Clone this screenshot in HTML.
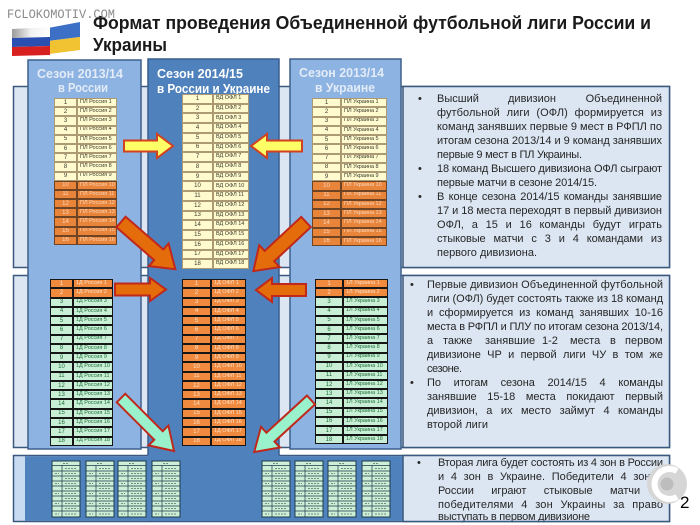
<!DOCTYPE html>
<html><head><meta charset="utf-8">
<style>
html,body{margin:0;padding:0;background:#fff;}
#w{position:relative;width:700px;height:525px;overflow:hidden;font-family:"Liberation Sans",sans-serif;}
svg{position:absolute;left:0;top:0;}
#bg{z-index:1}
#fg{z-index:3}
.t{position:absolute;z-index:2;font-size:6px;line-height:1;font-family:"Liberation Sans",sans-serif;}
.t div{display:flex;height:var(--h);}
.t i,.t b{display:flex;align-items:center;box-sizing:border-box;font-style:normal;font-weight:normal;white-space:nowrap;overflow:hidden;}
.t i{width:var(--n);justify-content:center;}
.t b{flex:1;padding-left:2px;font-size:5.5px;}
.y i,.y b{background:#fffbcf;color:#3a3a2a;border:1px solid #ab9a74;}
.o i,.o b{background:#e9843b;color:#fbd9bd;border:1px solid #6e4424;}
.k .o i,.k .o b{background:#ef8a3e;color:#fde0c8;border:1px solid #161616;}
.g i,.g b{background:#c8efd6;color:#22703a;border:1px solid #161616;}
</style></head><body><div id="w">

<svg id="bg" width="700" height="525" font-family="Liberation Sans, sans-serif">
<defs>
<linearGradient id="wg" x1="0" x2="1"><stop offset="0" stop-color="#9a9a9a"/><stop offset="0.5" stop-color="#f2f2f2"/><stop offset="1" stop-color="#ffffff"/></linearGradient>
<g id="m">
<rect x="0" y="0" width="28" height="56" fill="#cdeed7" stroke="#1e3a4a" stroke-width="1"/>
<path d="M0,4.5H28M0,10H28M0,15H28M0,20H28M0,25H28M0,30H28M0,35H28M0,40H28M0,45H28M0,50H28M10,4.5V56" stroke="#1e3a4a" stroke-width="0.7" fill="none"/>
<path d="M13,7.5H24M13,12.5H24M13,17.5H24M13,22.5H24M13,27.5H24M13,32.5H24M13,37.5H24M13,42.5H24M13,47.5H24M13,53H24M3,12.5H7M3,22.5H7M3,32.5H7M3,42.5H7M3,53H7M11,2.5H17" stroke="#6f8f78" stroke-width="1.1" stroke-dasharray="2 1" fill="none"/>
</g>
</defs>

<text x="7" y="18" font-family="Liberation Mono, monospace" font-size="13" fill="#8a8a8a" textLength="108" lengthAdjust="spacingAndGlyphs">FCLOKOMOTIV.COM</text>

<polygon points="48,28 80,22 80,37 48,41" fill="#3c6fc6"/>
<polygon points="48,41 80,37 80,50 49,54" fill="#f1c232"/>
<polygon points="12,29 50,27 50,37 12,38" fill="url(#wg)"/>
<polygon points="12,38 50,37 50,46 12,47" fill="#2a4fb0"/>
<polygon points="12,47 50,46 50,55 12,56" fill="#d92020"/>

<text x="93" y="29" font-size="18" font-weight="bold" fill="#1a1a1a" textLength="558" lengthAdjust="spacingAndGlyphs">Формат проведения Объединенной футбольной лиги России и</text>
<text x="93" y="51" font-size="18" font-weight="bold" fill="#1a1a1a" textLength="74" lengthAdjust="spacingAndGlyphs">Украины</text>

<rect x="13.5" y="86.5" width="656" height="181" fill="#dce6f2" stroke="#3b587e" stroke-width="1.5"/>
<rect x="13.5" y="275.5" width="656" height="172" fill="#dce6f2" stroke="#3b587e" stroke-width="1.5"/>
<rect x="13.5" y="455.5" width="656" height="66" fill="#c9dbf1" stroke="#3b587e" stroke-width="1.5"/>
<rect x="25" y="456.3" width="378" height="64.5" fill="#4f81bd"/>
<rect x="403" y="86.5" width="266.5" height="181" fill="#dce6f2" stroke="#3b587e" stroke-width="1.5"/>
<rect x="403" y="275.5" width="266.5" height="172" fill="#dce6f2" stroke="#3b587e" stroke-width="1.5"/>
<rect x="403" y="455.5" width="266.5" height="66" fill="#dce6f2"/>

<rect x="28" y="60" width="113" height="389" fill="#8db3e2" stroke="#3f5f8a" stroke-width="1.5"/>
<rect x="290" y="59" width="111" height="390" fill="#8db3e2" stroke="#3f5f8a" stroke-width="1.5"/>
<rect x="148" y="59" width="131" height="462" fill="#4f81bd"/>
<path d="M148,455 V59 H279 V455" fill="none" stroke="#3a5e8c" stroke-width="1.5"/>

<g font-weight="bold" font-size="13">
<text x="37" y="78" fill="#e3ebf7" textLength="86" lengthAdjust="spacingAndGlyphs">Сезон 2013/14</text>
<text x="58" y="92" fill="#e3ebf7" textLength="50" lengthAdjust="spacingAndGlyphs">в России</text>
<text x="157" y="78" fill="#ffffff" textLength="86" lengthAdjust="spacingAndGlyphs">Сезон 2014/15</text>
<text x="157" y="93" fill="#ffffff" textLength="113" lengthAdjust="spacingAndGlyphs">в России и Украине</text>
<text x="299" y="77" fill="#e3ebf7" textLength="85" lengthAdjust="spacingAndGlyphs">Сезон 2013/14</text>
<text x="315" y="92" fill="#e3ebf7" textLength="60" lengthAdjust="spacingAndGlyphs">в Украине</text>
</g>

<use href="#m" x="52" y="461"/>
<use href="#m" x="86" y="461"/>
<use href="#m" x="118" y="461"/>
<use href="#m" x="152" y="461"/>
<use href="#m" x="262" y="461"/>
<use href="#m" x="295" y="461"/>
<use href="#m" x="328" y="461"/>
<use href="#m" x="362" y="461"/>

<g font-size="11" fill="#262626">
<text x="418" y="102">•</text>
<text x="437" y="102">Высший</text>
<text x="508" y="102">дивизион</text>
<text x="662" y="102" text-anchor="end">Объединенной</text>
<text x="437" y="116" textLength="225" style="word-spacing:3.7px">футбольной лиги (ОФЛ) формируется из</text>
<text x="437" y="130" textLength="225">команд занявших первые 9 мест в РФПЛ по</text>
<text x="437" y="144" textLength="225">итогам сезона 2013/14 и 9 команд занявших</text>
<text x="437" y="158" textLength="145">первые 9 мест в ПЛ Украины.</text>
<text x="418" y="172">•</text>
<text x="437" y="172" textLength="225">18 команд Высшего дивизиона ОФЛ сыграют</text>
<text x="437" y="186" textLength="160">первые матчи в сезоне 2014/15.</text>
<text x="418" y="200">•</text>
<text x="437" y="200" textLength="225" style="word-spacing:1.4px">В конце сезона 2014/15 команды занявшие</text>
<text x="437" y="214" textLength="225">17 и 18 места переходят в первый дивизион</text>
<text x="437" y="228" textLength="225" style="word-spacing:4.6px">ОФЛ, а 15 и 16 команды будут играть</text>
<text x="437" y="242" textLength="225" style="word-spacing:5px">стыковые матчи с 3 и 4 командами из</text>
<text x="437" y="256" textLength="100">первого дивизиона.</text>

<text x="410" y="288">•</text>
<text x="427" y="288" textLength="236">Первые дивизион Объединенной футбольной</text>
<text x="427" y="302" textLength="236">лиги (ОФЛ) будет состоять также из 18 команд</text>
<text x="427" y="316" textLength="236" style="word-spacing:2.8px">и сформируется из команд занявших 10-16</text>
<text x="427" y="330" textLength="236">места в РФПЛ и ПЛУ по итогам сезона 2013/14,</text>
<text y="344"><tspan x="427">а</tspan> <tspan x="443">также</tspan> <tspan x="485">занявшие</tspan> <tspan x="542">1-2</tspan> <tspan x="570">места</tspan> <tspan x="610">в</tspan> <tspan x="625">первом</tspan></text>
<text x="427" y="358" textLength="236" style="word-spacing:3.3px">дивизионе ЧР и первой лиги ЧУ в том же</text>
<text x="427" y="372" textLength="35">сезоне.</text>
<text x="410" y="386">•</text>
<text x="427" y="386" textLength="236" style="word-spacing:9.8px">По итогам сезона 2014/15 4 команды</text>
<text x="427" y="400" textLength="236" style="word-spacing:7.7px">занявшие 15-18 места покидают первый</text>
<text x="427" y="414" textLength="236" style="word-spacing:5.5px">дивизион, а их место займут 4 команды</text>
<text x="427" y="428" textLength="61">второй лиги</text>

<text x="417" y="466">•</text>
<text x="438" y="466" textLength="225">Вторая лига будет состоять из 4 зон в России</text>
<text x="438" y="480" textLength="225" style="word-spacing:3.6px">и 4 зон в Украине. Победители 4 зон в</text>
<text x="438" y="494" textLength="225" style="word-spacing:14.5px">России играют стыковые матчи с</text>
<text x="438" y="508" textLength="225" style="word-spacing:4.4px">победителями 4 зон Украины за право</text>
<text x="438" y="520" textLength="152">выступать в первом дивизионе</text>
</g>
<rect x="403" y="455.5" width="266.5" height="66" fill="none" stroke="#3b587e" stroke-width="1.5"/>

<circle cx="667" cy="484" r="20" fill="#d6d6d6"/>
<path d="M677,471 A15,15 0 1 0 677,497" fill="none" stroke="#ffffff" stroke-width="6"/>
<circle cx="667" cy="484" r="6.5" fill="#bdbdbd"/>
<text x="680" y="508" font-size="17" fill="#000">2</text>
</svg>

<div class="t" style="left:54px;top:98px;width:63px;--n:23px;--h:9.2px">
<div class="y"><i>1</i><b>ПЛ Россия 1</b></div>
<div class="y"><i>2</i><b>ПЛ Россия 2</b></div>
<div class="y"><i>3</i><b>ПЛ Россия 3</b></div>
<div class="y"><i>4</i><b>ПЛ Россия 4</b></div>
<div class="y"><i>5</i><b>ПЛ Россия 5</b></div>
<div class="y"><i>6</i><b>ПЛ Россия 6</b></div>
<div class="y"><i>7</i><b>ПЛ Россия 7</b></div>
<div class="y"><i>8</i><b>ПЛ Россия 8</b></div>
<div class="y"><i>9</i><b>ПЛ Россия 9</b></div>
<div class="o"><i>10</i><b>ПЛ Россия 10</b></div>
<div class="o"><i>11</i><b>ПЛ Россия 11</b></div>
<div class="o"><i>12</i><b>ПЛ Россия 12</b></div>
<div class="o"><i>13</i><b>ПЛ Россия 13</b></div>
<div class="o"><i>14</i><b>ПЛ Россия 14</b></div>
<div class="o"><i>15</i><b>ПЛ Россия 15</b></div>
<div class="o"><i>16</i><b>ПЛ Россия 16</b></div>
</div>

<div class="t" style="left:182px;top:94px;width:67px;--n:31px;--h:9.72px">
<div class="y"><i>1</i><b>ВД ОФЛ 1</b></div>
<div class="y"><i>2</i><b>ВД ОФЛ 2</b></div>
<div class="y"><i>3</i><b>ВД ОФЛ 3</b></div>
<div class="y"><i>4</i><b>ВД ОФЛ 4</b></div>
<div class="y"><i>5</i><b>ВД ОФЛ 5</b></div>
<div class="y"><i>6</i><b>ВД ОФЛ 6</b></div>
<div class="y"><i>7</i><b>ВД ОФЛ 7</b></div>
<div class="y"><i>8</i><b>ВД ОФЛ 8</b></div>
<div class="y"><i>9</i><b>ВД ОФЛ 9</b></div>
<div class="y"><i>10</i><b>ВД ОФЛ 10</b></div>
<div class="y"><i>11</i><b>ВД ОФЛ 11</b></div>
<div class="y"><i>12</i><b>ВД ОФЛ 12</b></div>
<div class="y"><i>13</i><b>ВД ОФЛ 13</b></div>
<div class="y"><i>14</i><b>ВД ОФЛ 14</b></div>
<div class="y"><i>15</i><b>ВД ОФЛ 15</b></div>
<div class="y"><i>16</i><b>ВД ОФЛ 16</b></div>
<div class="y"><i>17</i><b>ВД ОФЛ 17</b></div>
<div class="y"><i>18</i><b>ВД ОФЛ 18</b></div>
</div>

<div class="t" style="left:312px;top:98px;width:75px;--n:29px;--h:9.25px">
<div class="y"><i>1</i><b>ПЛ Украина 1</b></div>
<div class="y"><i>2</i><b>ПЛ Украина 2</b></div>
<div class="y"><i>3</i><b>ПЛ Украина 3</b></div>
<div class="y"><i>4</i><b>ПЛ Украина 4</b></div>
<div class="y"><i>5</i><b>ПЛ Украина 5</b></div>
<div class="y"><i>6</i><b>ПЛ Украина 6</b></div>
<div class="y"><i>7</i><b>ПЛ Украина 7</b></div>
<div class="y"><i>8</i><b>ПЛ Украина 8</b></div>
<div class="y"><i>9</i><b>ПЛ Украина 9</b></div>
<div class="o"><i>10</i><b>ПЛ Украина 10</b></div>
<div class="o"><i>11</i><b>ПЛ Украина 11</b></div>
<div class="o"><i>12</i><b>ПЛ Украина 12</b></div>
<div class="o"><i>13</i><b>ПЛ Украина 13</b></div>
<div class="o"><i>14</i><b>ПЛ Украина 14</b></div>
<div class="o"><i>15</i><b>ПЛ Украина 15</b></div>
<div class="o"><i>16</i><b>ПЛ Украина 16</b></div>
</div>

<div class="t k" style="left:50px;top:279px;width:63px;--n:23px;--h:9.28px">
<div class="o"><i>1</i><b>1Д Россия 1</b></div>
<div class="o"><i>2</i><b>1Д Россия 2</b></div>
<div class="g"><i>3</i><b>1Д Россия 3</b></div>
<div class="g"><i>4</i><b>1Д Россия 4</b></div>
<div class="g"><i>5</i><b>1Д Россия 5</b></div>
<div class="g"><i>6</i><b>1Д Россия 6</b></div>
<div class="g"><i>7</i><b>1Д Россия 7</b></div>
<div class="g"><i>8</i><b>1Д Россия 8</b></div>
<div class="g"><i>9</i><b>1Д Россия 9</b></div>
<div class="g"><i>10</i><b>1Д Россия 10</b></div>
<div class="g"><i>11</i><b>1Д Россия 11</b></div>
<div class="g"><i>12</i><b>1Д Россия 12</b></div>
<div class="g"><i>13</i><b>1Д Россия 13</b></div>
<div class="g"><i>14</i><b>1Д Россия 14</b></div>
<div class="g"><i>15</i><b>1Д Россия 15</b></div>
<div class="g"><i>16</i><b>1Д Россия 16</b></div>
<div class="g"><i>17</i><b>1Д Россия 17</b></div>
<div class="g"><i>18</i><b>1Д Россия 18</b></div>
</div>

<div class="t k" style="left:182px;top:279px;width:64px;--n:29px;--h:9.28px">
<div class="o"><i>1</i><b>1Д ОФЛ 1</b></div>
<div class="o"><i>2</i><b>1Д ОФЛ 2</b></div>
<div class="o"><i>3</i><b>1Д ОФЛ 3</b></div>
<div class="o"><i>4</i><b>1Д ОФЛ 4</b></div>
<div class="o"><i>5</i><b>1Д ОФЛ 5</b></div>
<div class="o"><i>6</i><b>1Д ОФЛ 6</b></div>
<div class="o"><i>7</i><b>1Д ОФЛ 7</b></div>
<div class="o"><i>8</i><b>1Д ОФЛ 8</b></div>
<div class="o"><i>9</i><b>1Д ОФЛ 9</b></div>
<div class="o"><i>10</i><b>1Д ОФЛ 10</b></div>
<div class="o"><i>11</i><b>1Д ОФЛ 11</b></div>
<div class="o"><i>12</i><b>1Д ОФЛ 12</b></div>
<div class="o"><i>13</i><b>1Д ОФЛ 13</b></div>
<div class="o"><i>14</i><b>1Д ОФЛ 14</b></div>
<div class="o"><i>15</i><b>1Д ОФЛ 15</b></div>
<div class="o"><i>16</i><b>1Д ОФЛ 16</b></div>
<div class="o"><i>17</i><b>1Д ОФЛ 17</b></div>
<div class="o"><i>18</i><b>1Д ОФЛ 18</b></div>
</div>

<div class="t k" style="left:315px;top:279px;width:73px;--n:28px;--h:9.2px">
<div class="o"><i>1</i><b>1Л Украина 1</b></div>
<div class="o"><i>2</i><b>1Л Украина 2</b></div>
<div class="g"><i>3</i><b>1Л Украина 3</b></div>
<div class="g"><i>4</i><b>1Л Украина 4</b></div>
<div class="g"><i>5</i><b>1Л Украина 5</b></div>
<div class="g"><i>6</i><b>1Л Украина 6</b></div>
<div class="g"><i>7</i><b>1Л Украина 7</b></div>
<div class="g"><i>8</i><b>1Л Украина 8</b></div>
<div class="g"><i>9</i><b>1Л Украина 9</b></div>
<div class="g"><i>10</i><b>1Л Украина 10</b></div>
<div class="g"><i>11</i><b>1Л Украина 11</b></div>
<div class="g"><i>12</i><b>1Л Украина 12</b></div>
<div class="g"><i>13</i><b>1Л Украина 13</b></div>
<div class="g"><i>14</i><b>1Л Украина 14</b></div>
<div class="g"><i>15</i><b>1Л Украина 15</b></div>
<div class="g"><i>16</i><b>1Л Украина 16</b></div>
<div class="g"><i>17</i><b>1Л Украина 17</b></div>
<div class="g"><i>18</i><b>1Л Украина 18</b></div>
</div>

<svg id="fg" width="700" height="525">
<g stroke-width="2" stroke-linejoin="miter">
<polygon points="124,140.5 157,140.5 157,134 173,146 157,158 157,151.5 124,151.5" fill="#ffff66" stroke="#d2401f"/>
<polygon points="302,140.5 267,140.5 267,134 251,146 267,158 267,151.5 302,151.5" fill="#ffff66" stroke="#d2401f"/>
<polygon points="115,283.5 150,283.5 150,278 166,289.5 150,301 150,295.5 115,295.5" fill="#e46c0a" stroke="#c0281c"/>
<polygon points="306,284 272,284 272,278 256,290 272,302 272,296 306,296" fill="#e46c0a" stroke="#c0281c"/>
<g transform="translate(121,222) rotate(41)"><polygon points="0,-7 50,-7 50,-15 72,0 50,15 50,7 0,7" fill="#e46c0a" stroke="#c0281c"/></g>
<g transform="translate(306,222) rotate(137)"><polygon points="0,-7 50,-7 50,-15 72,0 50,15 50,7 0,7" fill="#e46c0a" stroke="#c0281c"/></g>
<g transform="translate(121,398) rotate(45)"><polygon points="0,-6 53,-6 53,-14 75,0 53,14 53,6 0,6" fill="#99f2cc" stroke="#c0281c"/></g>
<g transform="translate(311,400) rotate(137.5)"><polygon points="0,-6 55,-6 55,-14 77,0 55,14 55,6 0,6" fill="#99f2cc" stroke="#c0281c"/></g>
</g>
</svg>

</div></body></html>
